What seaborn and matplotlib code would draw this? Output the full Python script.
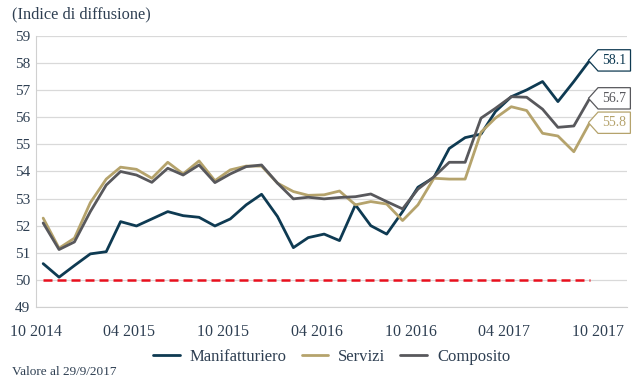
import pandas as pd
import numpy as np
import matplotlib
matplotlib.use("Agg")
import matplotlib.pyplot as plt
import matplotlib.dates as mdates
from matplotlib.path import Path
import seaborn as sns

# monthly readings, Oct 2014 - Sep 2017
months = pd.date_range("2014-10-01", "2017-09-01", freq="MS") + pd.Timedelta(days=14)

manifatturiero = [50.60, 50.10, 50.53, 50.96, 51.04, 52.15, 51.99, 52.25, 52.52, 52.37,
                  52.31, 51.99, 52.25, 52.77, 53.16, 52.34, 51.19, 51.56, 51.69, 51.45,
                  52.77, 52.00, 51.69, 52.52, 53.42, 53.78, 54.85, 55.25, 55.38, 56.21,
                  56.76, 57.01, 57.32, 56.58, 57.32, 58.10]
servizi = [52.28, 51.17, 51.54, 52.85, 53.72, 54.16, 54.08, 53.75, 54.34, 53.91,
           54.39, 53.66, 54.06, 54.20, 54.20, 53.57, 53.26, 53.12, 53.14, 53.28,
           52.77, 52.89, 52.80, 52.19, 52.77, 53.75, 53.72, 53.72, 55.45, 55.97,
           56.39, 56.25, 55.41, 55.31, 54.73, 55.80]
composito = [52.10, 51.12, 51.40, 52.52, 53.50, 54.00, 53.87, 53.60, 54.12, 53.87,
             54.24, 53.59, 53.91, 54.18, 54.24, 53.57, 52.99, 53.05, 52.99, 53.04,
             53.07, 53.17, 52.89, 52.62, 53.35, 53.80, 54.34, 54.34, 55.97, 56.33,
             56.76, 56.74, 56.30, 55.63, 55.68, 56.70]
soglia = 50

series_names = ["Manifatturiero", "Servizi", "Composito"]
colors = {"Manifatturiero": "#0e3a52", "Servizi": "#b5a36c", "Composito": "#58585c"}
text_col = "#2e3f52"

df = pd.DataFrame({"data": months, "Manifatturiero": manifatturiero,
                   "Servizi": servizi, "Composito": composito})
long_df = df.melt(id_vars="data", var_name="serie", value_name="valore")

sns.set_style("white")
plt.rcParams["font.family"] = ["Liberation Serif", "DejaVu Serif"]

fig = plt.figure(figsize=(6.38, 3.77), dpi=100)
ax = fig.add_axes([0.0564, 0.1857, 0.9266, 0.7188])

sns.lineplot(data=long_df, x="data", y="valore", hue="serie", hue_order=series_names,
             palette=colors, linewidth=2, ax=ax, zorder=3)
ax.plot(months, [soglia] * len(months), color="#e8101e", linestyle=(0, (3.6, 2.0)),
        linewidth=1.8, zorder=2)

ax.set_ylim(49, 59)
ax.set_yticks(range(49, 60))
ax.set_xlim(pd.Timestamp("2014-10-01"), pd.Timestamp("2017-11-27"))
ax.xaxis.set_major_locator(mdates.MonthLocator(bymonth=[4, 10]))
ax.xaxis.set_minor_locator(mdates.MonthLocator(bymonth=[1, 7]))
ax.xaxis.set_major_formatter(mdates.DateFormatter("%m %Y"))
ax.grid(axis="y", color="#d9d9d9", linewidth=0.9)
ax.set_axisbelow(True)

for s in ["top", "right"]:
    ax.spines[s].set_visible(False)
for s in ["left", "bottom"]:
    ax.spines[s].set_color("#d0d0d0")
ax.tick_params(axis="y", length=0, labelsize=11, colors=text_col, pad=4)
ax.tick_params(axis="x", which="both", length=7, color="#d0d0d0", direction="out",
               labelsize=11.5, labelcolor=text_col, pad=5)
ax.set_xlabel("")
ax.set_ylabel("")


def tag_box(x0, y0, width, height, mutation_size):
    # box with a pointed left side, padded around the text
    pad = 0.3 * mutation_size
    x0, y0 = x0 - pad, y0 - pad
    width, height = width + 2 * pad, height + 2 * pad
    tip = height * 0.45
    verts = [(x0, y0), (x0 + width, y0), (x0 + width, y0 + height),
             (x0, y0 + height), (x0 - tip, y0 + height / 2), (x0, y0)]
    return Path(verts, closed=True)


for name in series_names:
    last = df[name].iloc[-1]
    ax.annotate(f"{last:.1f}", xy=(months[-1], last), xytext=(9, 0),
                textcoords="offset points", ha="left", va="center",
                fontsize=10, color=colors[name],
                bbox=dict(boxstyle=tag_box, fc="white", ec=colors[name], lw=0.9),
                zorder=5)

leg = ax.legend(loc="lower center", bbox_to_anchor=(0.5, -0.27), ncol=3, frameon=False,
                fontsize=12, handlelength=1.6, columnspacing=0.9, handletextpad=0.6)
for t in leg.get_texts():
    t.set_color(text_col)

fig.text(0.019, 0.962, "(Indice di diffusione)", fontsize=11.8, color=text_col, va="center")
fig.text(0.019, 0.013, "Valore al 29/9/2017", fontsize=9.5, color=text_col, va="center")

fig.savefig("out.png", dpi=100)
